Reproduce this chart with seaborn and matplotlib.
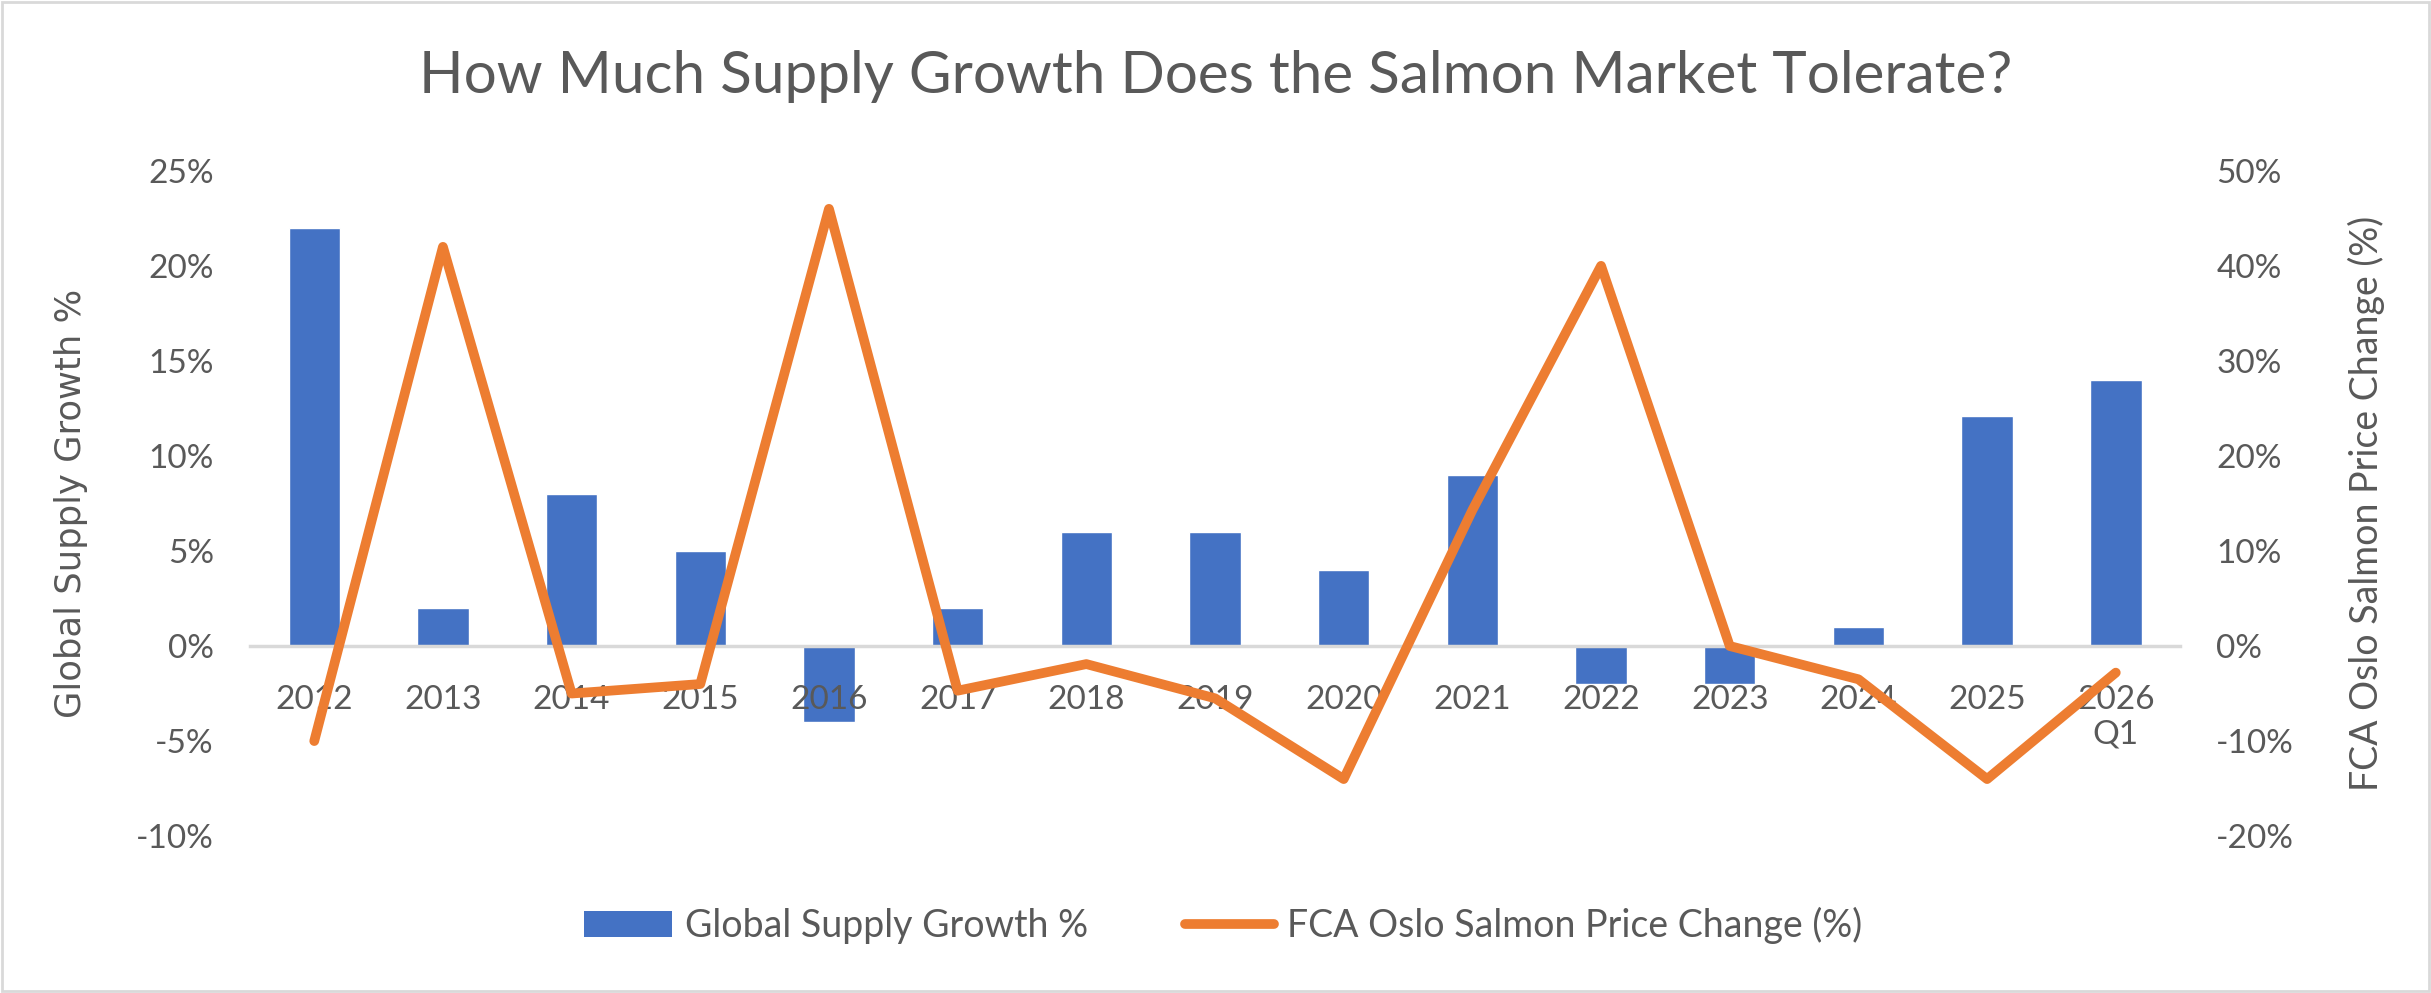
import numpy as np
import pandas as pd
import matplotlib.pyplot as plt
import seaborn as sns
from matplotlib.patches import Rectangle, Patch
from matplotlib.lines import Line2D

# datos
years = ["2012", "2013", "2014", "2015", "2016", "2017", "2018", "2019",
         "2020", "2021", "2022", "2023", "2024", "2025", "2026\nQ1"]
supply_growth = [22, 2, 8, 5, -4, 2, 6, 6, 4, 9, -2, -2, 1, 12.1, 14]
price_change = [-10, 42, -5, -4, 46, -4.7, -1.9, -5.5, -14, 14.3, 40, 0, -3.5, -14, -2.8]

left_ticks = [-10, -5, 0, 5, 10, 15, 20, 25]
right_ticks = [-20, -10, 0, 10, 20, 30, 40, 50]

title = "How Much Supply Growth Does the Salmon Market Tolerate?"
bar_label = "Global Supply Growth %"
line_label = "FCA Oslo Salmon Price Change (%)"

blue = "#4472C4"
orange = "#ED7D31"
gray_txt = "#595959"
gray_ln = "#D9D9D9"

df = pd.DataFrame({"year": years, "supply": supply_growth,
                   "price": price_change, "pos": np.arange(len(years))})

sns.set_style("white")
plt.rcParams["font.family"] = ["Lato", "DejaVu Sans"]

fig = plt.figure(figsize=(24.31, 9.93), dpi=100)
ax = fig.add_axes([0.1028, 0.158, 0.794, 0.670])

sns.barplot(data=df, x="year", y="supply", color=blue, width=0.4,
            saturation=1, ax=ax)
ax.set_axisbelow(False)
ax.set_xlim(-0.5, len(years) - 0.5)
ax.set_ylim(-10, 25)
ax.set_yticks(left_ticks)
ax.set_yticklabels([f"{t}%" for t in left_ticks])

ax2 = ax.twinx()
sns.lineplot(data=df, x="pos", y="price", color=orange, linewidth=7,
             ax=ax2, solid_joinstyle="round", solid_capstyle="round")
ax2.set_ylim(-20, 50)
ax2.set_yticks(right_ticks)
ax2.set_yticklabels([f"{t}%" for t in right_ticks])
ax2.set_xlim(-0.5, len(years) - 0.5)

for a in (ax, ax2):
    for s in a.spines.values():
        s.set_visible(False)
    a.tick_params(axis="y", length=0, labelsize=24, labelcolor=gray_txt)
    a.set_xlabel("")

ax.tick_params(axis="y", pad=26)
ax2.tick_params(axis="y", pad=26)

# eje x en cero
ax.spines["bottom"].set_visible(True)
ax.spines["bottom"].set_position(("data", 0))
ax.spines["bottom"].set_color(gray_ln)
ax.spines["bottom"].set_linewidth(2.5)
ax.set_xticks(np.arange(len(years)))
ax.set_xticklabels(years)
ax.set_xticks(np.arange(len(years) + 1) - 0.5, minor=True)
ax.tick_params(axis="x", which="major", length=0, pad=28, labelsize=24,
               labelcolor=gray_txt)
ax.tick_params(axis="x", which="minor", length=10, width=2.5, color=gray_ln,
               direction="out")
ax2.tick_params(axis="x", bottom=False, labelbottom=False)

ax.set_ylabel(bar_label, fontsize=25.5, color=gray_txt, family="DejaVu Sans")
ax.yaxis.set_label_coords(-0.084, 0.5)
ax2.set_ylabel(line_label, fontsize=27, color=gray_txt)
ax2.yaxis.set_label_coords(1.087, 0.5)

fig.text(0.5, 0.923, title, ha="center", va="center", fontsize=42,
         color=gray_txt)

handles = [Patch(facecolor=blue, edgecolor="none", label=bar_label),
           Line2D([0], [0], color=orange, lw=7, label=line_label)]
fig.legend(handles=handles, loc="center", bbox_to_anchor=(0.503, 0.068),
           ncol=2, frameon=False, fontsize=27, labelcolor=gray_txt,
           handlelength=2.35, handletextpad=0.35, columnspacing=2.6)

fig.patches.append(Rectangle((0.001, 0.002), 0.998, 0.996, transform=fig.transFigure,
                             fill=False, edgecolor=gray_ln, linewidth=2))

fig.savefig("out.png", dpi=100)
